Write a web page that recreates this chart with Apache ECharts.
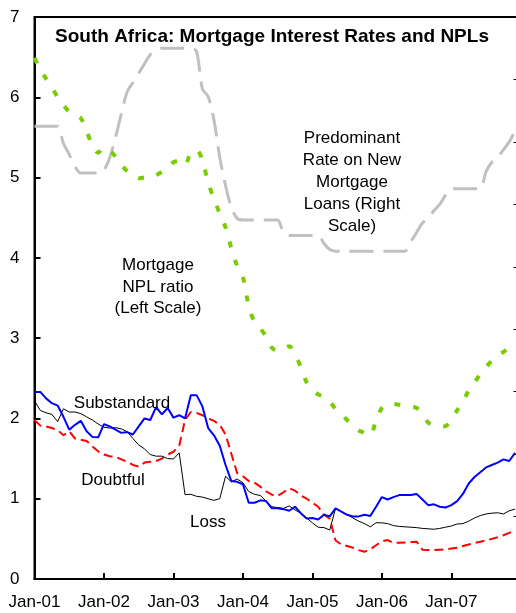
<!DOCTYPE html>
<html><head><meta charset="utf-8">
<script src="https://cdn.jsdelivr.net/npm/echarts@6/dist/echarts.min.js"></script>
<style>html,body{margin:0;padding:0;overflow:hidden;background:#fff}#c{width:520px;height:613px}</style>
</head><body><div id="c"></div><script>
// x tick labels (every 12 months, index 0 = Jan-01)
const xLabels = ['Jan-01','Jan-02','Jan-03','Jan-04','Jan-05','Jan-06','Jan-07'];
// Mortgage NPL ratio (left scale, %), monthly Jan-01..Dec-07
const npl = [
 6.49,6.35,6.23,6.12,6.00,5.90,5.82,5.78,5.74,5.58,5.40,5.31,
 5.37,5.34,5.26,5.16,5.08,5.02,4.99,5.00,5.00,5.03,5.07,5.12,
 5.19,5.21,5.16,5.31,5.34,5.22,4.93,4.74,4.55,4.38,4.12,3.90,
 3.76,3.40,3.20,3.12,3.02,2.88,2.84,2.87,2.90,2.80,2.64,2.45,
 2.36,2.30,2.27,2.21,2.12,2.05,1.98,1.91,1.85,1.82,1.79,1.98,
 2.13,2.18,2.18,2.17,2.16,2.15,2.13,2.05,1.95,1.91,1.90,1.905,
 1.98,2.10,2.21,2.35,2.45,2.55,2.64,2.72,2.78,2.83,2.88,2.94];
// Substandard (left scale)
const substandard = [
 2.33,2.33,2.25,2.19,2.16,2.02,1.86,1.92,1.97,1.84,1.77,1.765,
 1.93,1.90,1.86,1.82,1.83,1.80,1.90,2.00,1.98,2.14,2.05,2.13,
 2.01,2.04,2.00,2.29,2.29,2.15,1.88,1.79,1.66,1.42,1.22,1.21,
 1.18,0.95,0.95,0.98,0.97,0.88,0.88,0.87,0.85,0.90,0.82,0.755,
 0.76,0.74,0.80,0.78,0.88,0.84,0.80,0.78,0.78,0.80,0.785,0.90,
 1.02,0.99,1.02,1.045,1.045,1.045,1.06,0.99,0.92,0.93,0.90,0.89,
 0.92,0.97,1.06,1.19,1.27,1.33,1.39,1.42,1.45,1.49,1.47,1.57];
// Doubtful (left scale)
const doubtful = [
 1.98,1.91,1.90,1.88,1.855,1.79,1.84,1.75,1.735,1.72,1.65,1.59,
 1.55,1.53,1.52,1.49,1.46,1.42,1.40,1.45,1.46,1.47,1.50,1.55,
 1.585,1.66,1.98,2.08,2.07,2.04,2.00,1.97,1.92,1.80,1.56,1.32,
 1.28,1.22,1.20,1.15,1.09,1.05,1.035,1.08,1.13,1.10,1.04,1.00,
 0.95,0.90,0.80,0.75,0.48,0.43,0.41,0.39,0.36,0.34,0.37,0.42,
 0.47,0.485,0.45,0.45,0.455,0.46,0.465,0.365,0.36,0.36,0.365,0.37,
 0.38,0.39,0.41,0.43,0.45,0.465,0.48,0.50,0.52,0.545,0.575,0.61];
// Loss (left scale)
const loss = [
 2.22,2.10,2.07,2.05,1.96,2.12,2.08,2.08,2.06,2.02,1.98,1.93,
 1.89,1.88,1.885,1.87,1.835,1.75,1.67,1.62,1.55,1.53,1.53,1.50,
 1.495,1.57,1.05,1.055,1.03,1.02,1.00,0.98,1.00,1.28,1.21,1.245,
 1.20,1.09,1.055,1.04,0.97,0.90,0.89,0.88,0.91,0.86,0.82,0.76,
 0.70,0.645,0.64,0.61,0.88,0.84,0.80,0.76,0.72,0.69,0.65,0.70,
 0.70,0.69,0.665,0.655,0.65,0.645,0.64,0.63,0.625,0.62,0.63,0.645,
 0.66,0.685,0.69,0.72,0.76,0.79,0.81,0.82,0.825,0.81,0.85,0.87];
// Predominant rate on new mortgage loans (right scale, %)
const rate = [
 14.5,14.5,14.5,14.5,14.5,13.95,13.6,13.2,13.0,13.0,13.0,13.0,
 13.1,13.5,14.15,14.9,15.6,15.9,16.2,16.5,16.8,16.95,17.0,17.0,
 17.0,17.0,17.0,17.0,16.9,15.7,15.45,14.7,13.5,12.6,11.9,11.55,
 11.5,11.5,11.5,11.5,11.5,11.5,11.5,11.1,11.0,11.0,11.0,11.0,
 11.0,11.0,10.75,10.55,10.5,10.5,10.5,10.5,10.5,10.5,10.5,10.5,
 10.5,10.5,10.5,10.5,10.5,10.8,11.1,11.4,11.55,11.8,12.0,12.3,
 12.5,12.5,12.5,12.5,12.5,12.5,13.05,13.35,13.5,13.75,14.0,14.35];

const toXY = arr => arr.map((v, i) => [i, v]);
const FONT = 'Liberation Sans, Arial, sans-serif';

const chart = echarts.init(document.getElementById('c'), null, {renderer: 'canvas'});
chart.setOption({
  animation: false,
  grid: {left: 34.5, top: 17, width: 484, height: 562, show: true, borderColor: '#000', borderWidth: 2, backgroundColor: 'transparent'},
  xAxis: {
    type: 'value', min: 0, max: 83.6, interval: 12,
    axisLine: {show: true, lineStyle: {color: '#000', width: 2}},
    axisTick: {show: true, inside: true, length: 6, lineStyle: {color: '#000', width: 2}},
    axisLabel: {show: true, margin: 15, color: '#000', fontSize: 17, fontFamily: FONT,
      showMaxLabel: false,
      formatter: v => (v % 12 === 0 && xLabels[v / 12]) ? xLabels[v / 12] : ''},
    splitLine: {show: false}
  },
  yAxis: [{
    type: 'value', min: 0, max: 7, interval: 1, position: 'left',
    axisLine: {show: true, lineStyle: {color: '#000', width: 2}},
    axisTick: {show: true, inside: true, length: 6, lineStyle: {color: '#000', width: 2}},
    axisLabel: {margin: 15, color: '#000', fontSize: 17, fontFamily: FONT},
    splitLine: {show: false}
  }, {
    type: 'value', min: 0, max: 18, interval: 2, position: 'right',
    axisLine: {show: true, lineStyle: {color: '#000', width: 2}},
    axisTick: {show: true, inside: true, length: 5, lineStyle: {color: '#000', width: 1}},
    axisLabel: {show: false},
    splitLine: {show: false}
  }],
  series: [
    {type: 'line', name: 'Rate', yAxisIndex: 1, data: toXY(rate), showSymbol: false, smooth: 0.3,
     lineStyle: {color: '#C0C0C0', width: 3, type: [24, 10]}, z: 1},
    {type: 'line', name: 'NPL', data: toXY(npl), showSymbol: false, smooth: 0.3,
     lineStyle: {color: '#7ACC00', width: 4, type: [6, 13]}, z: 2},
    {type: 'line', name: 'Loss', data: toXY(loss), showSymbol: false,
     lineStyle: {color: '#000', width: 1}, z: 3},
    {type: 'line', name: 'Doubtful', data: toXY(doubtful), showSymbol: false,
     lineStyle: {color: '#FF0000', width: 2, type: [9, 5]}, z: 4},
    {type: 'line', name: 'Substandard', data: toXY(substandard), showSymbol: false,
     lineStyle: {color: '#0000FF', width: 2}, z: 5}
  ],
  graphic: [
    {type: 'text', z: 100, style: {text: 'South Africa: Mortgage Interest Rates and NPLs', x: 272, y: 37,
      font: 'bold 19px ' + FONT, fill: '#000', textAlign: 'center', textVerticalAlign: 'middle', align: 'center', verticalAlign: 'middle'}},
    {type: 'text', z: 100, style: {text: 'Predominant\nRate on New\nMortgage\nLoans (Right\nScale)', x: 352, y: 182.5,
      font: '17px ' + FONT, lineHeight: 22, fill: '#000', textAlign: 'center', textVerticalAlign: 'middle', align: 'center', verticalAlign: 'middle'}},
    {type: 'text', z: 100, style: {text: 'Mortgage\nNPL ratio\n(Left Scale)', x: 158, y: 287,
      font: '17px ' + FONT, lineHeight: 21.5, fill: '#000', textAlign: 'center', textVerticalAlign: 'middle', align: 'center', verticalAlign: 'middle'}},
    {type: 'text', z: 100, style: {text: 'Substandard', x: 122, y: 403,
      font: '17px ' + FONT, fill: '#000', textAlign: 'center', textVerticalAlign: 'middle', align: 'center', verticalAlign: 'middle'}},
    {type: 'text', z: 100, style: {text: 'Doubtful', x: 113, y: 480,
      font: '17px ' + FONT, fill: '#000', textAlign: 'center', textVerticalAlign: 'middle', align: 'center', verticalAlign: 'middle'}},
    {type: 'text', z: 100, style: {text: 'Loss', x: 208, y: 522,
      font: '17px ' + FONT, fill: '#000', textAlign: 'center', textVerticalAlign: 'middle', align: 'center', verticalAlign: 'middle'}}
  ]
});
</script></body></html>
